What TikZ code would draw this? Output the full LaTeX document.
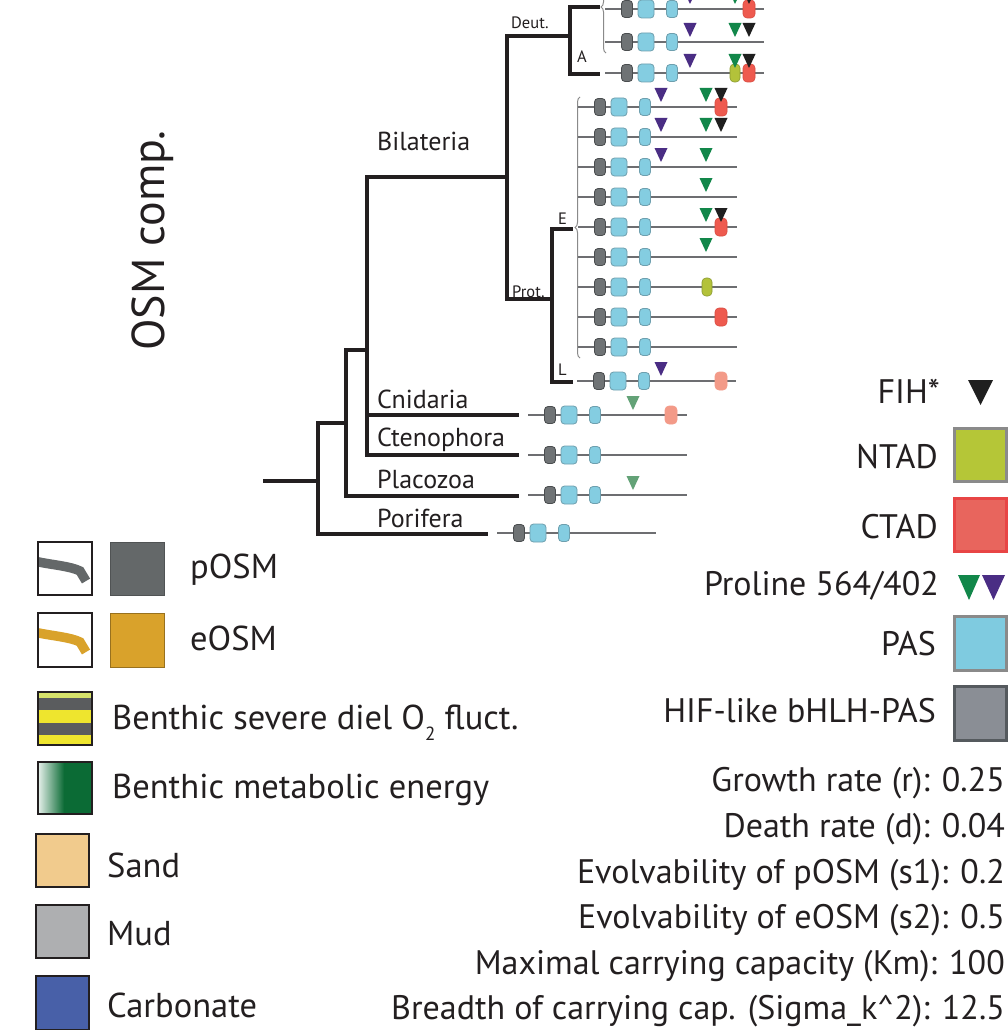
\documentclass[tikz,border=0pt]{standalone}
\usepackage{fontspec}
\setmainfont{PT Sans}
\usetikzlibrary{decorations.pathreplacing}
\definecolor{treeblack}{HTML}{231F20}
\definecolor{rowgray}{HTML}{6D6E71}
\definecolor{hlhfill}{HTML}{6F7375}
\definecolor{hlhdraw}{HTML}{4A4D4F}
\definecolor{pasfill}{HTML}{84CDE1}
\definecolor{pasdraw}{HTML}{6E9FAE}
\definecolor{ctadfill}{HTML}{EE5A4F}
\definecolor{ctaddraw}{HTML}{D94A40}
\definecolor{ctadlight}{HTML}{F39A88}
\definecolor{ntadfill}{HTML}{B3C23A}
\definecolor{ntaddraw}{HTML}{8A9A30}
\definecolor{tgreen}{HTML}{12874A}
\definecolor{tgreenlight}{HTML}{63A277}
\definecolor{tpurple}{HTML}{4A2D84}
\definecolor{tblack}{HTML}{1F1F1F}
\definecolor{posm}{HTML}{646869}
\definecolor{eosm}{HTML}{D9A22B}
\definecolor{stripeyg}{HTML}{D7E36B}
\definecolor{stripey}{HTML}{EEE52E}
\definecolor{stripeg}{HTML}{5A5C5E}
\definecolor{dkgreen}{HTML}{0B6B35}
\definecolor{sand}{HTML}{F1CB8D}
\definecolor{mud}{HTML}{AEAFB1}
\definecolor{carb}{HTML}{4860A8}
\definecolor{legntad}{HTML}{B5C637}
\definecolor{legctad}{HTML}{E8655D}
\definecolor{legctadb}{HTML}{E84545}
\definecolor{legpas}{HTML}{7FCBE0}
\definecolor{leghif}{HTML}{8A8E95}
\definecolor{leghifb}{HTML}{555A5E}
\definecolor{legbord}{HTML}{8A8A8A}
\newcommand\myrow[2]{%
  \draw[rowst] (#1,#2) -- (#1+159,#2);
  \draw[hlhst] (#1+16.5,#2-8.5) rectangle (#1+27.5,#2+8.5);
  \draw[passt] (#1+33,#2-9) rectangle (#1+49,#2+9);
  \draw[passt] (#1+61.5,#2-8.5) rectangle (#1+72.5,#2+8.5);}
\newcommand\mytri[3]{\fill[#3] (#1-6.5,#2-19) -- (#1+6.5,#2-19) -- (#1,#2-5) -- cycle;}
\newcommand\myctad[3]{\draw[#3,rounded corners=4pt,line width=0.6pt] (#1-6,#2-9) rectangle (#1+6,#2+9);}
\newcommand\myntad[2]{\draw[fill=ntadfill,draw=ntaddraw,rounded corners=4pt,line width=0.6pt] (#1-5,#2-9) rectangle (#1+5,#2+9);}
\newcommand\mystroke[2]{% #1 colour, #2 top of box
  \begin{scope}
  \clip (38,#2) rectangle (92,#2+53);
  \draw[#1,line width=9.5pt] (34,#2+19) .. controls (52,#2+23) and (70,#2+24) .. (80,#2+29) -- (86,#2+39);
  \end{scope}}
\begin{document}
\begin{tikzpicture}[x=1pt,y=-1pt,
  tree/.style={line width=3.8pt,draw=treeblack},
  rowst/.style={line width=2.4pt,draw=rowgray},
  hlhst/.style={fill=hlhfill,draw=hlhdraw,line width=0.8pt,rounded corners=3.5pt},
  passt/.style={fill=pasfill,draw=pasdraw,line width=0.8pt,rounded corners=3.5pt},
  bracest/.style={draw=legbord,line width=1pt,decorate,decoration={brace,amplitude=5pt}},
  taxon/.style={font=\fontsize{26}{30}\selectfont,anchor=base west,inner sep=0pt,text=treeblack},
  small/.style={font=\fontsize{16.5}{19}\selectfont,anchor=base west,inner sep=0pt,text=treeblack},
  legl/.style={font=\fontsize{34.5}{40}\selectfont,anchor=base west,inner sep=0pt,text=treeblack},
  legr/.style={font=\fontsize{34}{40}\selectfont,anchor=base east,inner sep=0pt,text=treeblack},
  box/.style={line width=1.5pt,draw=treeblack}]
\useasboundingbox[fill=white] (0,0) rectangle (1008,1030);

% ---- tree ----
\draw[tree] (263,481) -- (318,481);
\draw[tree] (346,423) -- (318,423) -- (318,534) -- (488,534);
\draw[tree] (367,350) -- (346,350) -- (346,496) -- (519,496);
\draw[tree] (507,177) -- (367,177) -- (367,455) -- (519,455);
\draw[tree] (367,415) -- (519,415);
\draw[tree] (570,36) -- (507,36) -- (507,299) -- (552,299);
\draw[tree] (600,7) -- (570,7) -- (570,74) -- (600,74);
\draw[tree] (573,229) -- (552,229) -- (552,382) -- (573,382);

\draw[bracest] (606,53) -- (606,-39);
\draw[bracest] (580,358) -- (580,97);

\node[taxon] (bil) at (377,150) {Bilateria};
\node[taxon] (cni) at (377,408) {Cnidaria};
\node[taxon] (cte) at (377,446) {Ctenophora};
\node[taxon] (pla) at (377,488) {Placozoa};
\node[taxon] (por) at (377,527) {Porifera};
\node[small] (deut) at (511,29) {Deut.};
\node[small] (prot) at (512,297) {Prot.};
\node[small] (lA) at (577,63) {A};
\node[small] (lE) at (558,224) {E};
\node[small] (lL) at (558,375) {L};

\node[font=\fontsize{46}{50}\selectfont,rotate=90,anchor=base west,inner sep=0pt,text=treeblack] (osm) at (164,351) {OSM comp.};

% ---- gene rows: Deuterostomes ----
\myrow{605}{9}
\myctad{749}{9}{fill=ctadfill,draw=ctaddraw}
\mytri{690}{9}{tpurple}\mytri{735}{9}{tgreen}\mytri{749}{9}{tblack}
\myrow{605}{42}
\mytri{690}{42}{tpurple}\mytri{735}{42}{tgreen}\mytri{749}{42}{tblack}
\myrow{605}{73}
\myntad{735}{73}\myctad{749}{73}{fill=ctadfill,draw=ctaddraw}
\mytri{690}{73}{tpurple}\mytri{735}{73}{tgreen}\mytri{749}{73}{tblack}

% ---- Protostomes ----
\myrow{578}{107}
\myctad{721}{107}{fill=ctadfill,draw=ctaddraw}
\mytri{661}{107}{tpurple}\mytri{706}{107}{tgreen}\mytri{721}{107}{tblack}
\myrow{578}{137}
\mytri{661}{137}{tpurple}\mytri{706}{137}{tgreen}\mytri{721}{137}{tblack}
\myrow{578}{167}
\mytri{661}{167}{tpurple}\mytri{706}{167}{tgreen}
\myrow{578}{197}
\mytri{706}{197}{tgreen}
\myrow{578}{227}
\myctad{721}{227}{fill=ctadfill,draw=ctaddraw}
\mytri{706}{227}{tgreen}\mytri{721}{227}{tblack}
\myrow{578}{257}
\mytri{706}{257}{tgreen}
\myrow{578}{287}
\myntad{707}{287}
\myrow{578}{317}
\myctad{721}{317}{fill=ctadfill,draw=ctaddraw}
\myrow{578}{347}
\myrow{577}{381}
\myctad{721}{381}{fill=ctadlight,draw=ctadlight}
\mytri{661}{381}{tpurple}

% ---- basal groups ----
\myrow{528}{415}
\myctad{671}{415}{fill=ctadlight,draw=ctadlight}
\mytri{633}{415}{tgreenlight}
\myrow{528}{455}
\myrow{528}{495}
\mytri{633}{495}{tgreenlight}
\myrow{497}{533}

% ---- left legend ----
\draw[box,fill=white] (38,542) rectangle (92,595);
\mystroke{posm}{542}
\draw[box,fill=white,fill opacity=0] (38,542) rectangle (92,595);
\draw[fill=posm,draw=posm!80!black,line width=0.8pt] (110,542) rectangle (164,595);
\node[legl] (posml) at (190,578) {pOSM};

\draw[box,fill=white] (38,613) rectangle (92,667);
\mystroke{eosm}{613}
\draw[box] (38,613) rectangle (92,667);
\draw[fill=eosm,draw=eosm!70!black,line width=0.8pt] (110,613) rectangle (164,667);
\node[legl] (eosml) at (190,650) {eOSM};

\fill[stripeyg] (38,692) rectangle (92,698);
\fill[stripeg] (38,698) rectangle (92,710);
\fill[stripey] (38,710) rectangle (92,723);
\fill[stripeg] (38,723) rectangle (92,735);
\fill[stripey] (38,735) rectangle (92,745);
\draw[box] (38,692) rectangle (92,745);
\node[legl] (sev) at (112,729) {Benthic severe diel O\raisebox{-0.32em}{\fontsize{19}{20}\selectfont 2} fluct.};

\fill[dkgreen] (38,762) rectangle (92,814);
\shade[left color=white!90!dkgreen,right color=dkgreen] (38,762) rectangle (64,814);
\draw[box] (38,762) rectangle (92,814);
\node[legl] (met) at (112,798) {Benthic metabolic energy};

\draw[box,fill=sand] (36,834) rectangle (89,887);
\node[legl] (sandl) at (107,877) {Sand};
\draw[box,fill=mud] (36,905) rectangle (89,958);
\node[legl] (mudl) at (107,945) {Mud};
\draw[box,fill=carb] (36,976) rectangle (89,1030);
\node[legl] (carbl) at (107,1017) {Carbonate};

% ---- right legend ----
\node[legr] (fih) at (940,403) {FIH*};
\fill[tblack] (968,380) -- (993,380) -- (980.5,405) -- cycle;
\draw[fill=legntad,draw=legbord,line width=3pt] (954,428) rectangle (1006,481);
\node[legr] (ntad) at (938,468) {NTAD};
\draw[fill=legctad,draw=legctadb,line width=3pt] (954,498) rectangle (1006,551);
\node[legr] (ctad) at (938,538) {CTAD};
\node[legr] (pro) at (939,595) {Proline 564/402};
\fill[tgreen] (958,575) -- (980,575) -- (969,600) -- cycle;
\fill[tpurple] (982,575) -- (1005,575) -- (993.5,600) -- cycle;
\draw[fill=legpas,draw=legbord,line width=3pt] (954,616) rectangle (1006,670);
\node[legr] (pas) at (936,655) {PAS};
\draw[fill=leghif,draw=leghifb,line width=3pt] (954,686) rectangle (1006,740);
\node[legr] (hif) at (936,722) {HIF-like bHLH-PAS};

\node[legr] (p1) at (1005,791) {Growth rate (r): 0.25};
\node[legr] (p2) at (1005,837) {Death rate (d): 0.04};
\node[legr] (p3) at (1005,883) {Evolvability of pOSM (s1): 0.2};
\node[legr] (p4) at (1005,928) {Evolvability of eOSM (s2): 0.5};
\node[legr] (p5) at (1005,974) {Maximal carrying capacity (Km): 100};
\node[legr] (p6) at (1005,1019) {Breadth of carrying cap. (Sigma\_k\^{}2): 12.5};
\end{tikzpicture}
\end{document}
